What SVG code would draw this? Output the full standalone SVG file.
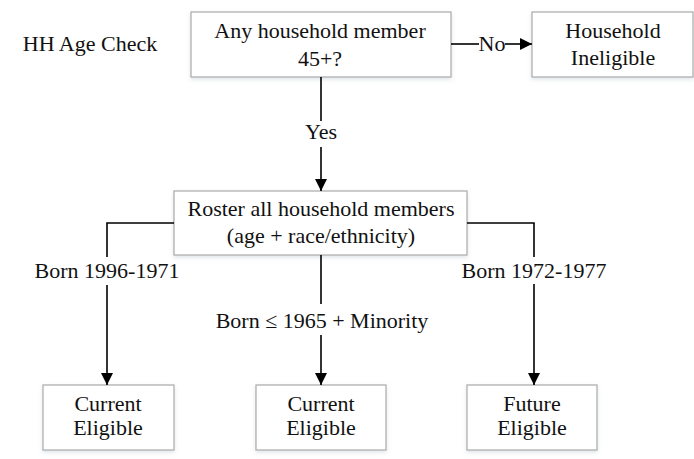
<svg xmlns="http://www.w3.org/2000/svg" width="694" height="459" viewBox="0 0 694 459">
<defs>
<marker id="arr" viewBox="0 0 12 12" refX="12" refY="6" markerWidth="12" markerHeight="12" markerUnits="userSpaceOnUse" orient="auto"><path d="M0,0 L12,6 L0,12 z" fill="#000"/></marker>
<filter id="sh" x="-10%" y="-10%" width="120%" height="130%"><feDropShadow dx="0" dy="2" stdDeviation="2" flood-color="#9ab" flood-opacity="0.3"/></filter>
</defs>
<style>
.box{fill:#fff;stroke:#aaa;stroke-width:1.2;filter:url(#sh)}
.t{font-family:"Liberation Serif","Times New Roman",serif;font-size:22px;fill:#111;text-anchor:middle}
.c{stroke:#000;stroke-width:1.6;fill:none}
</style>
<rect width="694" height="459" fill="#fff"/>
<text class="t" x="90" y="51">HH Age Check</text>
<g id="n1"><rect class="box" x="191" y="12" width="260" height="65"/><text class="t" x="320" y="38">Any household member</text><text class="t" x="320" y="66">45+?</text></g>
<g id="n2"><rect class="box" x="532" y="12" width="161" height="65"/><text class="t" x="613" y="38">Household</text><text class="t" x="613" y="65">Ineligible</text></g>
<g id="n3"><rect class="box" x="174" y="191" width="293" height="64"/><text class="t" x="321" y="216">Roster all household members</text><text class="t" x="321" y="243">(age + race/ethnicity)</text></g>
<g id="n4"><rect class="box" x="43" y="385" width="131" height="65"/><text class="t" x="108" y="411">Current</text><text class="t" x="108" y="435">Eligible</text></g>
<g id="n5"><rect class="box" x="256" y="385" width="130" height="65"/><text class="t" x="321" y="411">Current</text><text class="t" x="321" y="435">Eligible</text></g>
<g id="n6"><rect class="box" x="467" y="385" width="130" height="65"/><text class="t" x="532" y="411">Future</text><text class="t" x="532" y="435">Eligible</text></g>
<g id="connectors">
<path class="c" d="M451,44 H479"/><path class="c" d="M505,44 H532" marker-end="url(#arr)"/>
<text class="t" x="492" y="51">No</text>
<path class="c" d="M321,77 V121"/><path class="c" d="M321,147 V191" marker-end="url(#arr)"/>
<text class="t" x="321" y="139">Yes</text>
<path class="c" d="M174,223 H107 V257"/><path class="c" d="M107,285 V385" marker-end="url(#arr)"/>
<text class="t" x="107" y="278">Born 1996-1971</text>
<path class="c" d="M467,223 H534 V257"/><path class="c" d="M534,284 V385" marker-end="url(#arr)"/>
<text class="t" x="534" y="278">Born 1972-1977</text>
<path class="c" d="M321,255 V304"/><path class="c" d="M321,335 V385" marker-end="url(#arr)"/>
<text class="t" x="322" y="328">Born ≤ 1965 + Minority</text>
</g>
</svg>
